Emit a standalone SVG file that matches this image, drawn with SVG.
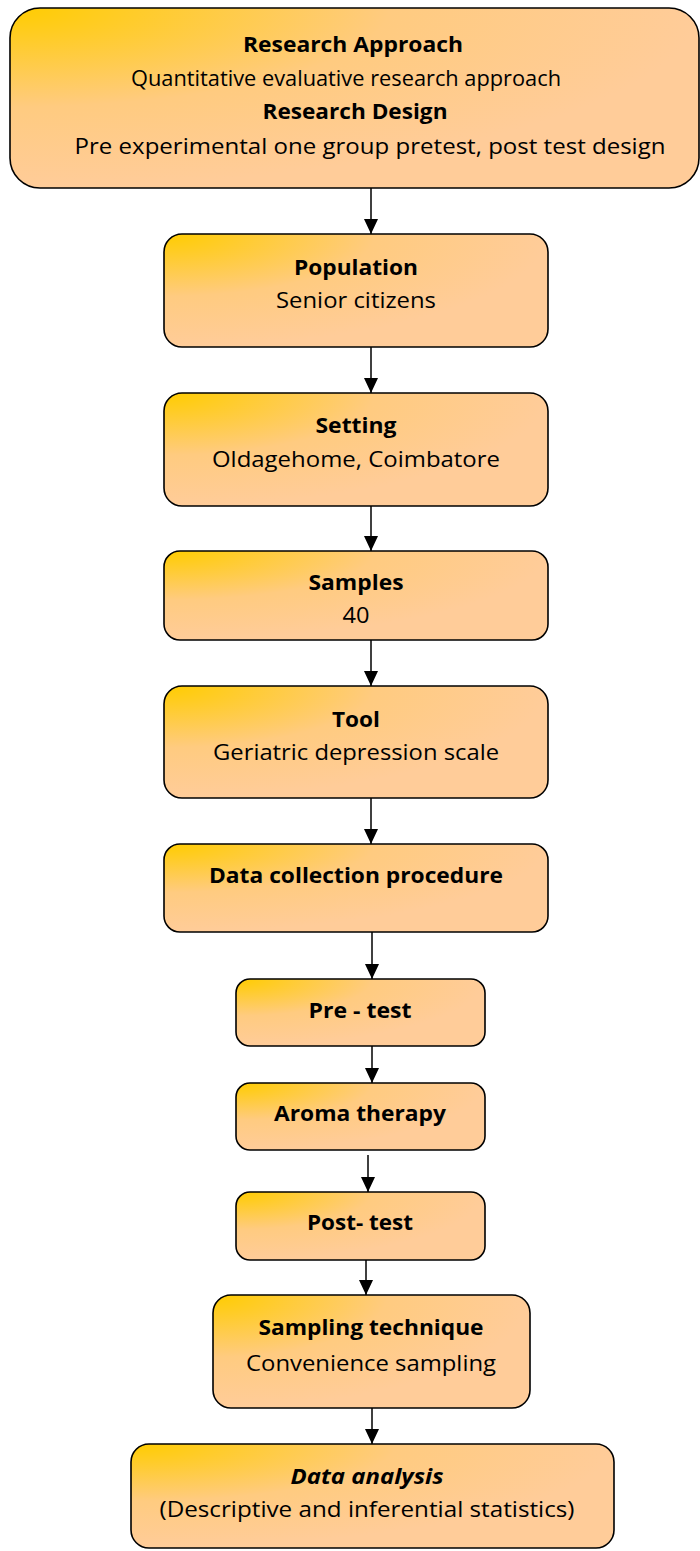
<svg xmlns="http://www.w3.org/2000/svg" width="700" height="1551" viewBox="0 0 700 1551">
<style>
.box{stroke:#000;stroke-width:1.6;fill:url(#g)}
.t{font-family:"Open Sans","Liberation Sans",sans-serif;font-size:22px;fill:#000;text-anchor:middle}
.b{font-weight:bold}
.c{stroke:#000;stroke-width:1.5;fill:none;marker-end:url(#ah)}
</style>
<defs>
<radialGradient id="g" cx="0" cy="0" r="1" fx="0" fy="0">
<stop offset="0" stop-color="#FFCC00"/>
<stop offset="0.15" stop-color="#FFCC22"/>
<stop offset="0.55" stop-color="#FFCB80"/>
<stop offset="1" stop-color="#FFCC99"/>
</radialGradient>
<marker id="ah" markerUnits="userSpaceOnUse" markerWidth="15" markerHeight="15" refX="15" refY="7" orient="auto" viewBox="0 0 15 14">
<path d="M0,0 L15,7 L0,14 z" fill="#000"/>
</marker>
</defs>
<g id="connectors">
<line class="c" x1="371" y1="188" x2="371" y2="234"/>
<line class="c" x1="371" y1="347" x2="371" y2="393"/>
<line class="c" x1="371" y1="506" x2="371" y2="551"/>
<line class="c" x1="371" y1="640" x2="371" y2="686"/>
<line class="c" x1="371" y1="798" x2="371" y2="844"/>
<line class="c" x1="372" y1="932" x2="372" y2="979"/>
<line class="c" x1="372" y1="1046" x2="372" y2="1083"/>
<line class="c" x1="368" y1="1155" x2="368" y2="1192"/>
<line class="c" x1="366" y1="1260" x2="366" y2="1295"/>
<line class="c" x1="372" y1="1408" x2="372" y2="1444"/>
</g>
<g id="n1">
<rect class="box" x="10" y="8" width="689" height="180" rx="30"/>
<text class="t b" x="353" y="52" textLength="220" lengthAdjust="spacingAndGlyphs">Research Approach</text>
<text class="t" x="346" y="86" textLength="430" lengthAdjust="spacingAndGlyphs">Quantitative evaluative research approach</text>
<text class="t b" x="355" y="119" textLength="185" lengthAdjust="spacingAndGlyphs">Research Design</text>
<text class="t" x="370" y="154" textLength="591" lengthAdjust="spacingAndGlyphs">Pre experimental one group pretest, post test design</text>
</g>
<g id="n2">
<rect class="box" x="164" y="234" width="384" height="113" rx="18"/>
<text class="t b" x="356" y="275" textLength="124" lengthAdjust="spacingAndGlyphs">Population</text>
<text class="t" x="356" y="308" textLength="160" lengthAdjust="spacingAndGlyphs">Senior citizens</text>
</g>
<g id="n3">
<rect class="box" x="164" y="393" width="384" height="113" rx="18"/>
<text class="t b" x="356" y="433" textLength="81" lengthAdjust="spacingAndGlyphs">Setting</text>
<text class="t" x="356" y="467" textLength="288" lengthAdjust="spacingAndGlyphs">Oldagehome, Coimbatore</text>
</g>
<g id="n4">
<rect class="box" x="164" y="551" width="384" height="89" rx="16"/>
<text class="t b" x="356" y="590" textLength="95" lengthAdjust="spacingAndGlyphs">Samples</text>
<text class="t" x="356" y="623" textLength="27" lengthAdjust="spacingAndGlyphs">40</text>
</g>
<g id="n5">
<rect class="box" x="164" y="686" width="384" height="112" rx="18"/>
<text class="t b" x="356" y="727" textLength="48" lengthAdjust="spacingAndGlyphs">Tool</text>
<text class="t" x="356" y="760" textLength="286" lengthAdjust="spacingAndGlyphs">Geriatric depression scale</text>
</g>
<g id="n6">
<rect class="box" x="164" y="844" width="384" height="88" rx="16"/>
<text class="t b" x="356" y="883" textLength="294" lengthAdjust="spacingAndGlyphs">Data collection procedure</text>
</g>
<g id="n7">
<rect class="box" x="236" y="979" width="249" height="67" rx="14"/>
<text class="t b" x="360" y="1018" textLength="103" lengthAdjust="spacingAndGlyphs">Pre - test</text>
</g>
<g id="n8">
<rect class="box" x="236" y="1083" width="249" height="67" rx="14"/>
<text class="t b" x="360" y="1121" textLength="172" lengthAdjust="spacingAndGlyphs">Aroma therapy</text>
</g>
<g id="n9">
<rect class="box" x="236" y="1192" width="249" height="68" rx="14"/>
<text class="t b" x="360" y="1230" textLength="106" lengthAdjust="spacingAndGlyphs">Post- test</text>
</g>
<g id="n10">
<rect class="box" x="213" y="1295" width="317" height="113" rx="18"/>
<text class="t b" x="371" y="1335" textLength="225" lengthAdjust="spacingAndGlyphs">Sampling technique</text>
<text class="t" x="371" y="1371" textLength="250" lengthAdjust="spacingAndGlyphs">Convenience sampling</text>
</g>
<g id="n11">
<rect class="box" x="131" y="1444" width="483" height="104" rx="18"/>
<text class="t b" x="367" y="1484" font-style="italic" textLength="153" lengthAdjust="spacingAndGlyphs">Data analysis</text>
<text class="t" x="367" y="1517" textLength="415" lengthAdjust="spacingAndGlyphs">(Descriptive and inferential statistics)</text>
</g>
</svg>
